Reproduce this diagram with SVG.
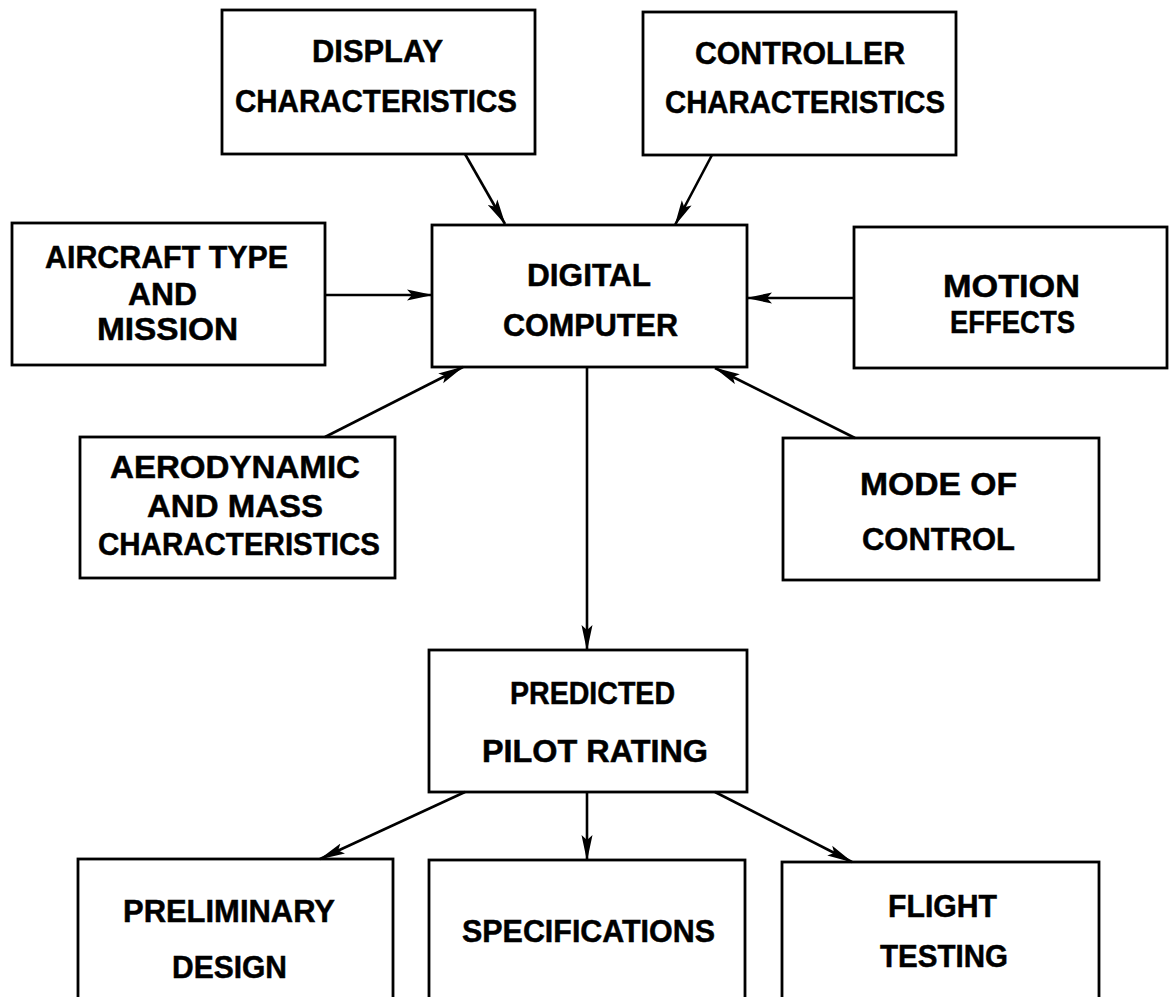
<svg xmlns="http://www.w3.org/2000/svg" width="1169" height="997" viewBox="0 0 1169 997">
<style>
.box{fill:#fff;stroke:#000;stroke-width:2.8}
.lbl{font-family:"Liberation Sans",Arial,sans-serif;font-weight:bold;font-size:32px;fill:#000;stroke:#000;stroke-width:0.5}
.con{stroke:#000;stroke-width:2.6;fill:none;marker-end:url(#ah)}
</style>
<defs>
<marker id="ah" markerUnits="userSpaceOnUse" markerWidth="26" markerHeight="12" refX="25" refY="6" orient="auto" viewBox="0 0 26 12">
<path d="M0,0.5 L26,6 L0,11.5 L5,6 z" fill="#000"/>
</marker>
</defs>
<rect width="1169" height="997" fill="#fff"/>
<g id="display">
<rect class="box" x="222" y="10" width="313" height="144"/>
<text class="lbl" x="312" y="62" textLength="131" lengthAdjust="spacingAndGlyphs">DISPLAY</text>
<text class="lbl" x="235" y="112" textLength="282" lengthAdjust="spacingAndGlyphs">CHARACTERISTICS</text>
</g>
<g id="controller">
<rect class="box" x="643" y="12" width="313" height="143"/>
<text class="lbl" x="695" y="64" textLength="210" lengthAdjust="spacingAndGlyphs">CONTROLLER</text>
<text class="lbl" x="665" y="113" textLength="280" lengthAdjust="spacingAndGlyphs">CHARACTERISTICS</text>
</g>
<g id="aircraft">
<rect class="box" x="12" y="223" width="313" height="142"/>
<text class="lbl" x="45" y="268" textLength="243" lengthAdjust="spacingAndGlyphs">AIRCRAFT TYPE</text>
<text class="lbl" x="128" y="305" textLength="69" lengthAdjust="spacingAndGlyphs">AND</text>
<text class="lbl" x="97" y="340" textLength="141" lengthAdjust="spacingAndGlyphs">MISSION</text>
</g>
<g id="computer">
<rect class="box" x="432" y="225" width="315" height="142"/>
<text class="lbl" x="527" y="286" textLength="124" lengthAdjust="spacingAndGlyphs">DIGITAL</text>
<text class="lbl" x="503" y="336" textLength="175" lengthAdjust="spacingAndGlyphs">COMPUTER</text>
</g>
<g id="motion">
<rect class="box" x="854" y="227" width="313" height="141"/>
<text class="lbl" x="943" y="297" textLength="137" lengthAdjust="spacingAndGlyphs">MOTION</text>
<text class="lbl" x="950" y="333" textLength="125" lengthAdjust="spacingAndGlyphs">EFFECTS</text>
</g>
<g id="aero">
<rect class="box" x="80" y="437" width="315" height="141"/>
<text class="lbl" x="110" y="478" textLength="250" lengthAdjust="spacingAndGlyphs">AERODYNAMIC</text>
<text class="lbl" x="147" y="517" textLength="176" lengthAdjust="spacingAndGlyphs">AND MASS</text>
<text class="lbl" x="98" y="555" textLength="282" lengthAdjust="spacingAndGlyphs">CHARACTERISTICS</text>
</g>
<g id="mode">
<rect class="box" x="783" y="438" width="316" height="142"/>
<text class="lbl" x="860" y="495" textLength="157" lengthAdjust="spacingAndGlyphs">MODE OF</text>
<text class="lbl" x="862" y="550" textLength="153" lengthAdjust="spacingAndGlyphs">CONTROL</text>
</g>
<g id="predicted">
<rect class="box" x="429" y="650" width="318" height="142"/>
<text class="lbl" x="510" y="704" textLength="165" lengthAdjust="spacingAndGlyphs">PREDICTED</text>
<text class="lbl" x="482" y="762" textLength="226" lengthAdjust="spacingAndGlyphs">PILOT RATING</text>
</g>
<g id="preliminary">
<rect class="box" x="78" y="859" width="315" height="150"/>
<text class="lbl" x="123" y="922" textLength="212" lengthAdjust="spacingAndGlyphs">PRELIMINARY</text>
<text class="lbl" x="172" y="978" textLength="115" lengthAdjust="spacingAndGlyphs">DESIGN</text>
</g>
<g id="specifications">
<rect class="box" x="429" y="860" width="316" height="150"/>
<text class="lbl" x="462" y="942" textLength="253" lengthAdjust="spacingAndGlyphs">SPECIFICATIONS</text>
</g>
<g id="flight">
<rect class="box" x="782" y="862" width="317" height="150"/>
<text class="lbl" x="888" y="917" textLength="109" lengthAdjust="spacingAndGlyphs">FLIGHT</text>
<text class="lbl" x="880" y="967" textLength="128" lengthAdjust="spacingAndGlyphs">TESTING</text>
</g>
<g id="connectors">
<line class="con" x1="465" y1="154" x2="505" y2="224"/>
<line class="con" x1="712" y1="155" x2="675" y2="225"/>
<line class="con" x1="325" y1="295" x2="432" y2="295"/>
<line class="con" x1="854" y1="298" x2="747" y2="298"/>
<line class="con" x1="325" y1="437" x2="463" y2="367"/>
<line class="con" x1="855" y1="438" x2="715" y2="368"/>
<line class="con" x1="587" y1="367" x2="587" y2="650"/>
<line class="con" x1="465" y1="792" x2="320" y2="859"/>
<line class="con" x1="587" y1="792" x2="587" y2="860"/>
<line class="con" x1="715" y1="792" x2="852" y2="862"/>
</g>
</svg>
